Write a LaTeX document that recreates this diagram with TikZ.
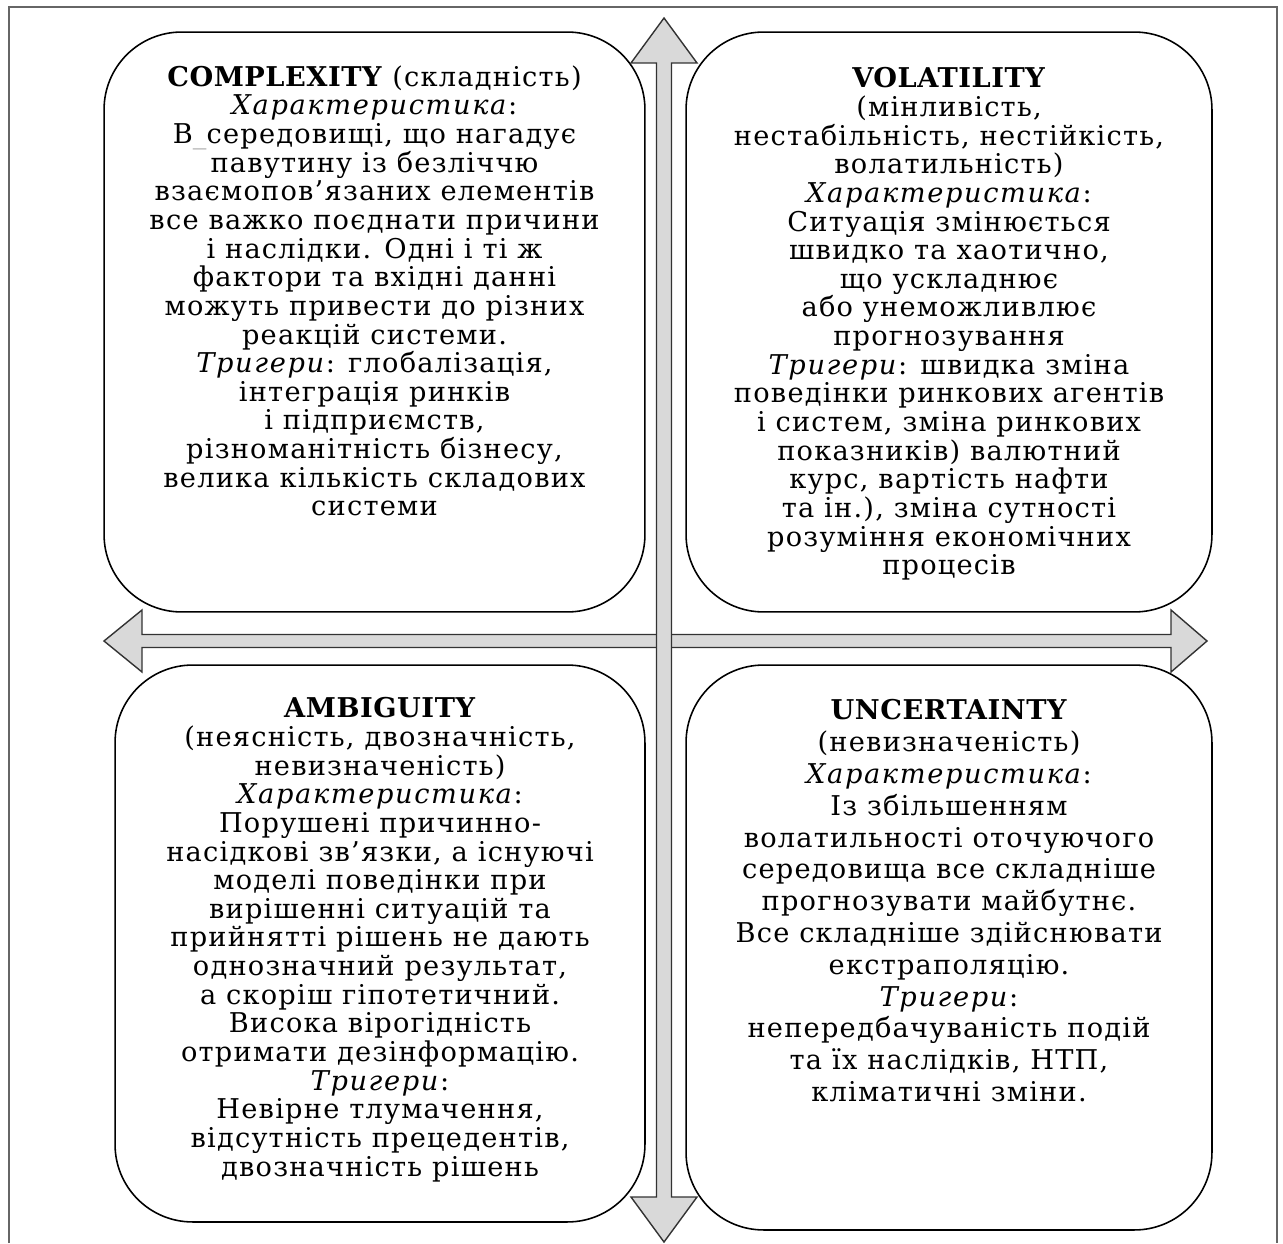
\documentclass[tikz,border=0pt]{standalone}
\usepackage{fontspec}
\setmainfont{DejaVu Serif}[LetterSpace=4.5, ItalicFeatures={LetterSpace=6}, BoldFeatures={LetterSpace=2}]
\usepackage{xcolor}
\usetikzlibrary{positioning}

\begin{document}
\begin{tikzpicture}[x=0.02cm, y=-0.02cm,
  quad/.style={draw, line width=0.9pt, rounded corners=1.55cm, inner sep=0pt},
  quadtext/.style={align=center, inner sep=0pt, font=\fontsize{15.5}{16.3}\selectfont},
  axis/.style={draw=black!80, line width=0.8pt, fill=gray!30, line join=miter}]
\useasboundingbox (0,0) rectangle (1283,1243);

% outer frame, open at the bottom
\draw[black!60, line width=0.6pt] (9,1243) -- (9,7) -- (1277,7) -- (1277,1243);

% four quadrants
\node[quad, minimum width=10.82cm, minimum height=11.6cm] (cplx) at (374.5,322) {};
\node[quad, minimum width=10.52cm, minimum height=11.6cm] (vola) at (949,322) {};
\node[quad, minimum width=10.6cm, minimum height=11.14cm] (ambi) at (380,943.5) {};
\node[quad, minimum width=10.52cm, minimum height=11.3cm] (unce) at (949,947.5) {};

% axes: horizontal first, vertical on top
\draw[axis] (104,641)--++(38,-31)--++(0,24.5)--++(1029,0)--++(0,-24.5)--++(36,31)
  --++(-36,31)--++(0,-24.5)--++(-1029,0)--++(0,24.5)--cycle;
\draw[axis] (664,18)--++(33,45)--++(-25.5,0)--++(0,1134)--++(25.5,0)--++(-33,45)
  --++(-33,-45)--++(25.5,0)--++(0,-1134)--++(-25.5,0)--cycle;

\node[quadtext, below=0.68cm of cplx.north] (cplxtext) {%
\textbf{COMPLEXITY} (складність)\\
\textit{Характеристика}:\\
В{\color{black!35}\_}середовищі, що нагадує\\
павутину із безліччю\\
взаємопов’язаних елементів\\
все важко поєднати причини\\
і наслідки. Одні і ті ж\\
фактори та вхідні данні\\
можуть привести до різних\\
реакцій системи.\\
\textit{Тригери}: глобалізація,\\
інтеграція ринків\\
і підприємств,\\
різноманітність бізнесу,\\
велика кількість складових\\
системи};

\node[quadtext, below=0.72cm of vola.north] (volatext) {%
\textbf{VOLATILITY}\\
(мінливість,\\
нестабільність, нестійкість,\\
волатильність)\\
\textit{Характеристика}:\\
Ситуація змінюється\\
швидко та хаотично,\\
що ускладнює\\
або унеможливлює\\
прогнозування\\
\textit{Тригери}: швидка зміна\\
поведінки ринкових агентів\\
і систем, зміна ринкових\\
показників) валютний\\
курс, вартість нафти\\
та ін.), зміна сутності\\
розуміння економічних\\
процесів};

\node[quadtext, below=0.66cm of ambi.north] (ambitext) {%
\textbf{AMBIGUITY}\\
(неясність, двозначність,\\
невизначеність)\\
\textit{Характеристика}:\\
Порушені причинно-\\
насідкові зв’язки, а існуючі\\
моделі поведінки при\\
вирішенні ситуацій та\\
прийнятті рішень не дають\\
однозначний результат,\\
а скоріш гіпотетичний.\\
Висока вірогідність\\
отримати дезінформацію.\\
\textit{Тригери}:\\
Невірне тлумачення,\\
відсутність прецедентів,\\
двозначність рішень};

% this one is set a little looser
\node[quadtext, font=\fontsize{15.5}{18.1}\selectfont, below=0.7cm of unce.north] (uncetext) {%
\textbf{UNCERTAINTY}\\
(невизначеність)\\
\textit{Характеристика}:\\
Із збільшенням\\
волатильності оточуючого\\
середовища все складніше\\
прогнозувати майбутнє.\\
Все складніше здійснювати\\
екстраполяцію.\\
\textit{Тригери}:\\
непередбачуваність подій\\
та їх наслідків, НТП,\\
кліматичні зміни.};

\end{tikzpicture}
\end{document}
